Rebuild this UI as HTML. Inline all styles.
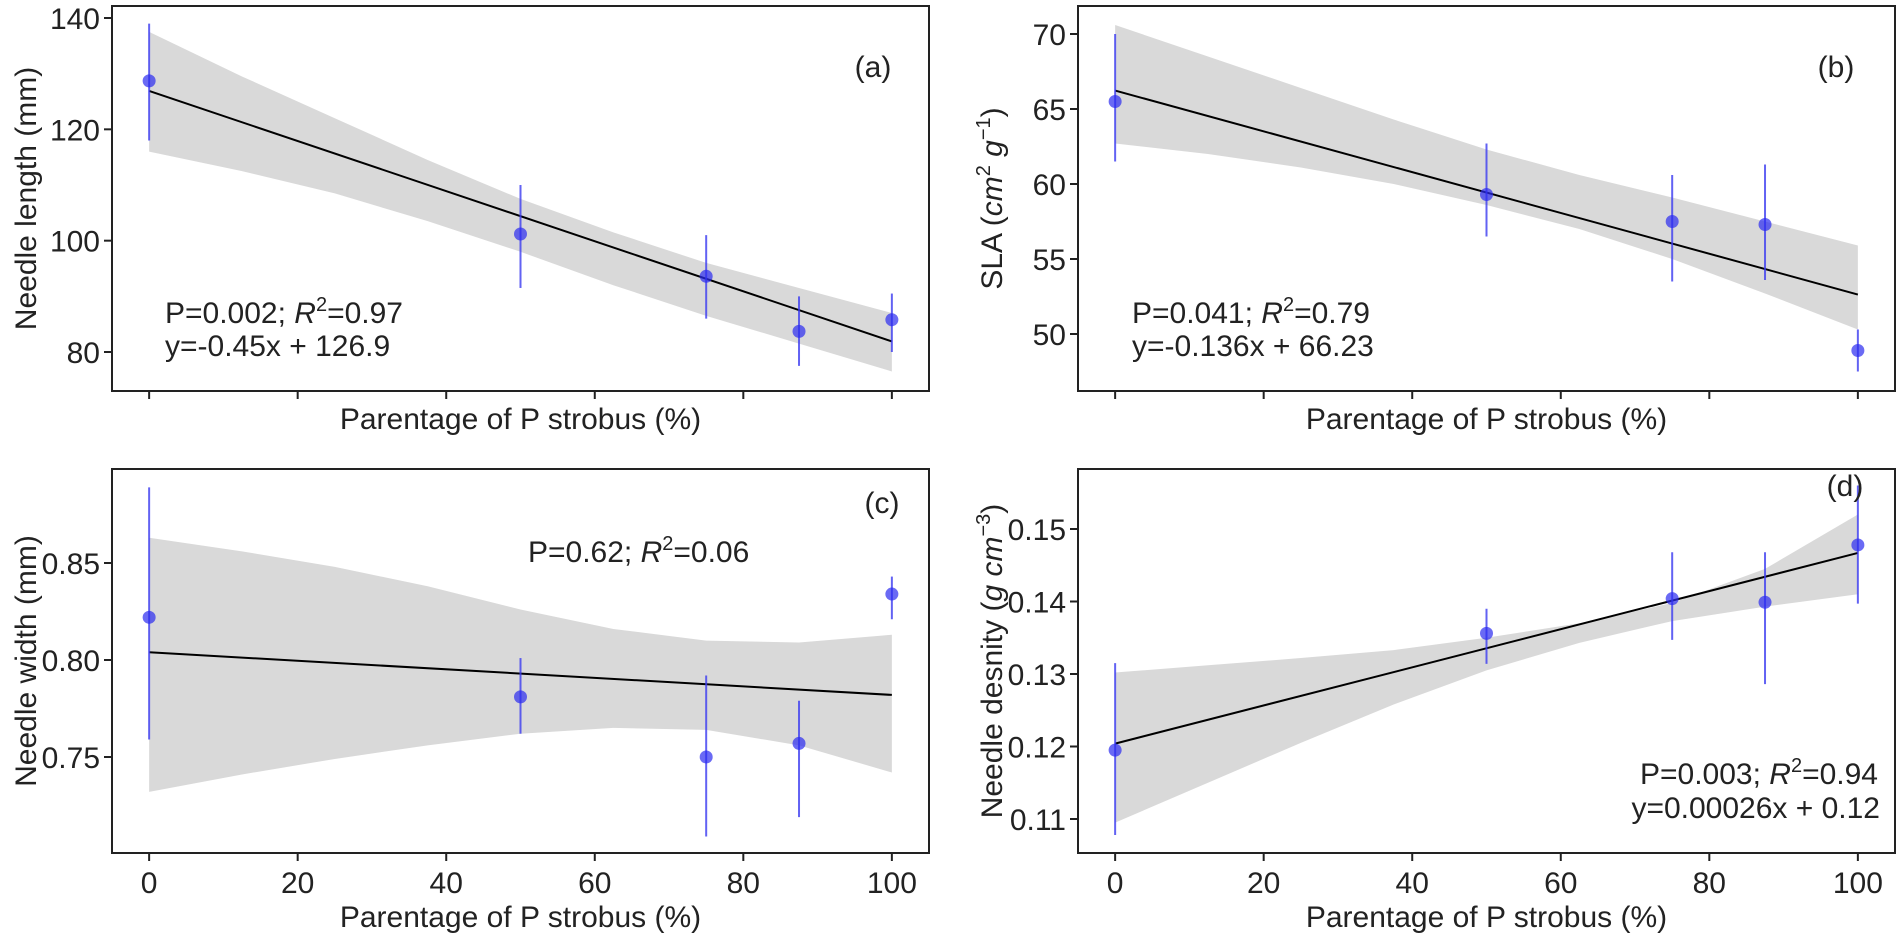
<!DOCTYPE html>
<html><head><meta charset="utf-8"><style>
html,body{margin:0;padding:0;background:#fff;}
svg{display:block;font-family:"Liberation Sans",Arial,sans-serif;}
</style></head><body>
<svg id="fig" width="1901" height="934" viewBox="0 0 1901 934" xmlns="http://www.w3.org/2000/svg"></svg>
<script>
const xs = [0, 50, 75, 87.5, 100];
const bandX = [0, 12.5, 25, 37.5, 50, 62.5, 75, 87.5, 100];
const xTicks = [0, 20, 40, 60, 80, 100];

const aVals = [128.7, 101.2, 93.6, 83.7, 85.8];
const aLo = [118, 91.5, 86, 77.5, 80];
const aHi = [139, 110, 101, 90, 90.5];
const aFit = [126.9, 81.9];
const aBandUp = [137.5, 129.5, 122, 114.5, 107.5, 101.5, 96, 91.5, 87];
const aBandLo = [116, 112.5, 108.5, 103.5, 98, 92, 86.5, 81.5, 76.5];
const aTicks = [80, 100, 120, 140];

const bVals = [65.5, 59.3, 57.5, 57.3, 48.9];
const bLo = [61.5, 56.5, 53.5, 53.6, 47.5];
const bHi = [70, 62.7, 60.6, 61.3, 50.3];
const bFit = [66.23, 52.63];
const bBandUp = [70.6, 68.5, 66.4, 64.3, 62.3, 60.6, 59.1, 57.5, 55.9];
const bBandLo = [62.7, 62.0, 61.1, 60.0, 58.6, 57.0, 55.0, 52.7, 50.3];
const bTicks = [50, 55, 60, 65, 70];

const cVals = [0.822, 0.781, 0.750, 0.757, 0.834];
const cLo = [0.759, 0.762, 0.709, 0.719, 0.821];
const cHi = [0.889, 0.801, 0.792, 0.779, 0.843];
const cFit = [0.804, 0.782];
const cBandUp = [0.863, 0.856, 0.848, 0.838, 0.826, 0.816, 0.810, 0.809, 0.813];
const cBandLo = [0.732, 0.741, 0.749, 0.756, 0.762, 0.765, 0.764, 0.756, 0.742];
const cTicks = [0.75, 0.80, 0.85];

const dVals = [0.1195, 0.1356, 0.1404, 0.1399, 0.1478];
const dLo = [0.1078, 0.1314, 0.1347, 0.1286, 0.1397];
const dHi = [0.1315, 0.1390, 0.1468, 0.1468, 0.1560];
const dFit = [0.1204, 0.1467];
const dBandUp = [0.1302, 0.1312, 0.1322, 0.1333, 0.1350, 0.1370, 0.1398, 0.1445, 0.1520];
const dBandLo = [0.1095, 0.1150, 0.1205, 0.1258, 0.1305, 0.1343, 0.1373, 0.1393, 0.1410];
const dTicks = [0.11, 0.12, 0.13, 0.14, 0.15];

const svg = document.getElementById('fig');
const NS = 'http://www.w3.org/2000/svg';
const FS = 30;
function mk(tag, attrs, parent) {
  const e = document.createElementNS(NS, tag);
  for (const k in attrs) e.setAttribute(k, attrs[k]);
  (parent || svg).appendChild(e);
  return e;
}

function panel(o) {
  const g = mk('g', {});
  
  
  const X = v => o.x0 + (v - (-5)) / 110 * (o.x1 - o.x0);
  const Y = v => o.yA + (v - o.vA) * (o.yB - o.yA) / (o.vB - o.vA);
  let pts = bandX.map((x, i) => X(x) + ',' + Y(o.bUp[i]));
  pts = pts.concat(bandX.slice().reverse().map((x, i) => X(x) + ',' + Y(o.bLo[bandX.length - 1 - i])));
  const band = mk('polygon', {points: pts.join(' '), fill: '#d9d9d9'}, g);
  
  
  const fl = mk('line', {x1: X(0), y1: Y(o.fit[0]), x2: X(100), y2: Y(o.fit[1]), stroke: '#000', 'stroke-width': 2}, g);
  
  
  xs.forEach((x, i) => {
    const eb = mk('line', {x1: X(x), x2: X(x), y1: Y(o.lo[i]), y2: Y(o.hi[i]), stroke: '#3b3bf0', 'stroke-opacity': 0.8, 'stroke-width': 2}, g);
    
    
    const c = mk('circle', {cx: X(x), cy: Y(o.vals[i]), r: 6.5, fill: '#2b2bef', 'fill-opacity': 0.7}, g);
    
    
  });
  const fr = mk('rect', {x: o.x0, y: o.top, width: o.x1 - o.x0, height: o.bot - o.top, fill: 'none', stroke: '#222', 'stroke-width': 2}, g);
  
  
  o.ticks.forEach(t => {
    mk('line', {x1: o.x0 - 8, x2: o.x0, y1: Y(t), y2: Y(t), stroke: '#222', 'stroke-width': 2}, g);
    const tl = mk('text', {x: o.x0 - 12, y: Y(t) + 11, 'text-anchor': 'end', 'font-size': FS, fill: '#222'}, g);
    tl.textContent = o.fmt(t);
    
    
  });
  xTicks.forEach(t => {
    mk('line', {x1: X(t), x2: X(t), y1: o.bot, y2: o.bot + 8, stroke: '#222', 'stroke-width': 2}, g);
    if (o.showX) {
      const tl = mk('text', {x: X(t), y: o.bot + 40, 'text-anchor': 'middle', 'font-size': FS, fill: '#222'}, g);
      tl.textContent = t;
      
      
    }
  });
  const xl = mk('text', {x: (o.x0 + o.x1) / 2, y: o.showX ? o.bot + 74 : o.bot + 38, 'text-anchor': 'middle', 'font-size': FS, fill: '#222'}, g);
  xl.textContent = 'Parentage of P strobus (%)';
  
  
  const cy = (o.top + o.bot) / 2;
  const yl = mk('text', {x: o.ylx, y: cy, 'text-anchor': 'middle', 'font-size': FS, fill: '#222', transform: 'rotate(-90 ' + o.ylx + ' ' + cy + ')'}, g);
  yl.innerHTML = o.ylabel;
  
  
  const pl = mk('text', {x: o.plx, y: o.ply, 'text-anchor': 'middle', 'font-size': FS, fill: '#222'}, g);
  pl.textContent = o.plabel;
  
  
  o.notes.forEach(n => {
    const t = mk('text', {x: n[0], y: n[1], 'text-anchor': n[3] || 'start', 'font-size': FS, fill: '#222'}, g);
    t.innerHTML = n[2];
    
    
  });
}
const sup = s => '<tspan font-size="20" dy="-12">' + s + '</tspan>';
panel({name:'panel-a', x0:112, x1:929, top:6, bot:391, yA:352, vA:80, yB:18, vB:140,
  vals:aVals, lo:aLo, hi:aHi, fit:aFit, bUp:aBandUp, bLo:aBandLo, ticks:aTicks, fmt:t=>t, showX:false,
  ylx:36, ylabel:'Needle length  (mm)', plx:873, ply:77, plabel:'(a)',
  notes:[[165,323,'P=0.002; <tspan font-style="italic">R</tspan>' + sup('2') + '<tspan dy="12">=0.97</tspan>'],[165,356,'y=-0.45x + 126.9']]});
panel({name:'panel-b', x0:1078, x1:1895, top:6, bot:391, yA:334, vA:50, yB:34, vB:70,
  vals:bVals, lo:bLo, hi:bHi, fit:bFit, bUp:bBandUp, bLo:bBandLo, ticks:bTicks, fmt:t=>t, showX:false,
  ylx:1002, ylabel:'SLA (<tspan font-style="italic">cm</tspan>' + sup('2') + '<tspan dy="12" font-style="italic"> g</tspan>' + sup('−1') + '<tspan dy="12">)</tspan>', plx:1836, ply:77, plabel:'(b)',
  notes:[[1132,323,'P=0.041; <tspan font-style="italic">R</tspan>' + sup('2') + '<tspan dy="12">=0.79</tspan>'],[1132,356,'y=-0.136x + 66.23']]});
panel({name:'panel-c', x0:112, x1:929, top:469, bot:853, yA:757, vA:0.75, yB:563, vB:0.85,
  vals:cVals, lo:cLo, hi:cHi, fit:cFit, bUp:cBandUp, bLo:cBandLo, ticks:cTicks, fmt:t=>t.toFixed(2), showX:true,
  ylx:36, ylabel:'Needle width  (mm)', plx:882, ply:513, plabel:'(c)',
  notes:[[528,562,'P=0.62; <tspan font-style="italic">R</tspan>' + sup('2') + '<tspan dy="12">=0.06</tspan>']]});
panel({name:'panel-d', x0:1078, x1:1895, top:469, bot:853, yA:819, vA:0.11, yB:529, vB:0.15,
  vals:dVals, lo:dLo, hi:dHi, fit:dFit, bUp:dBandUp, bLo:dBandLo, ticks:dTicks, fmt:t=>t.toFixed(2), showX:true,
  ylx:1002, ylabel:'Needle desnity  (<tspan font-style="italic">g cm</tspan>' + sup('−3') + '<tspan dy="12">)</tspan>', plx:1845, ply:496, plabel:'(d)',
  notes:[[1878,784,'P=0.003; <tspan font-style="italic">R</tspan>' + sup('2') + '<tspan dy="12">=0.94</tspan>','end'],[1880,818,'y=0.00026x + 0.12','end']]});
</script>
</body></html>
